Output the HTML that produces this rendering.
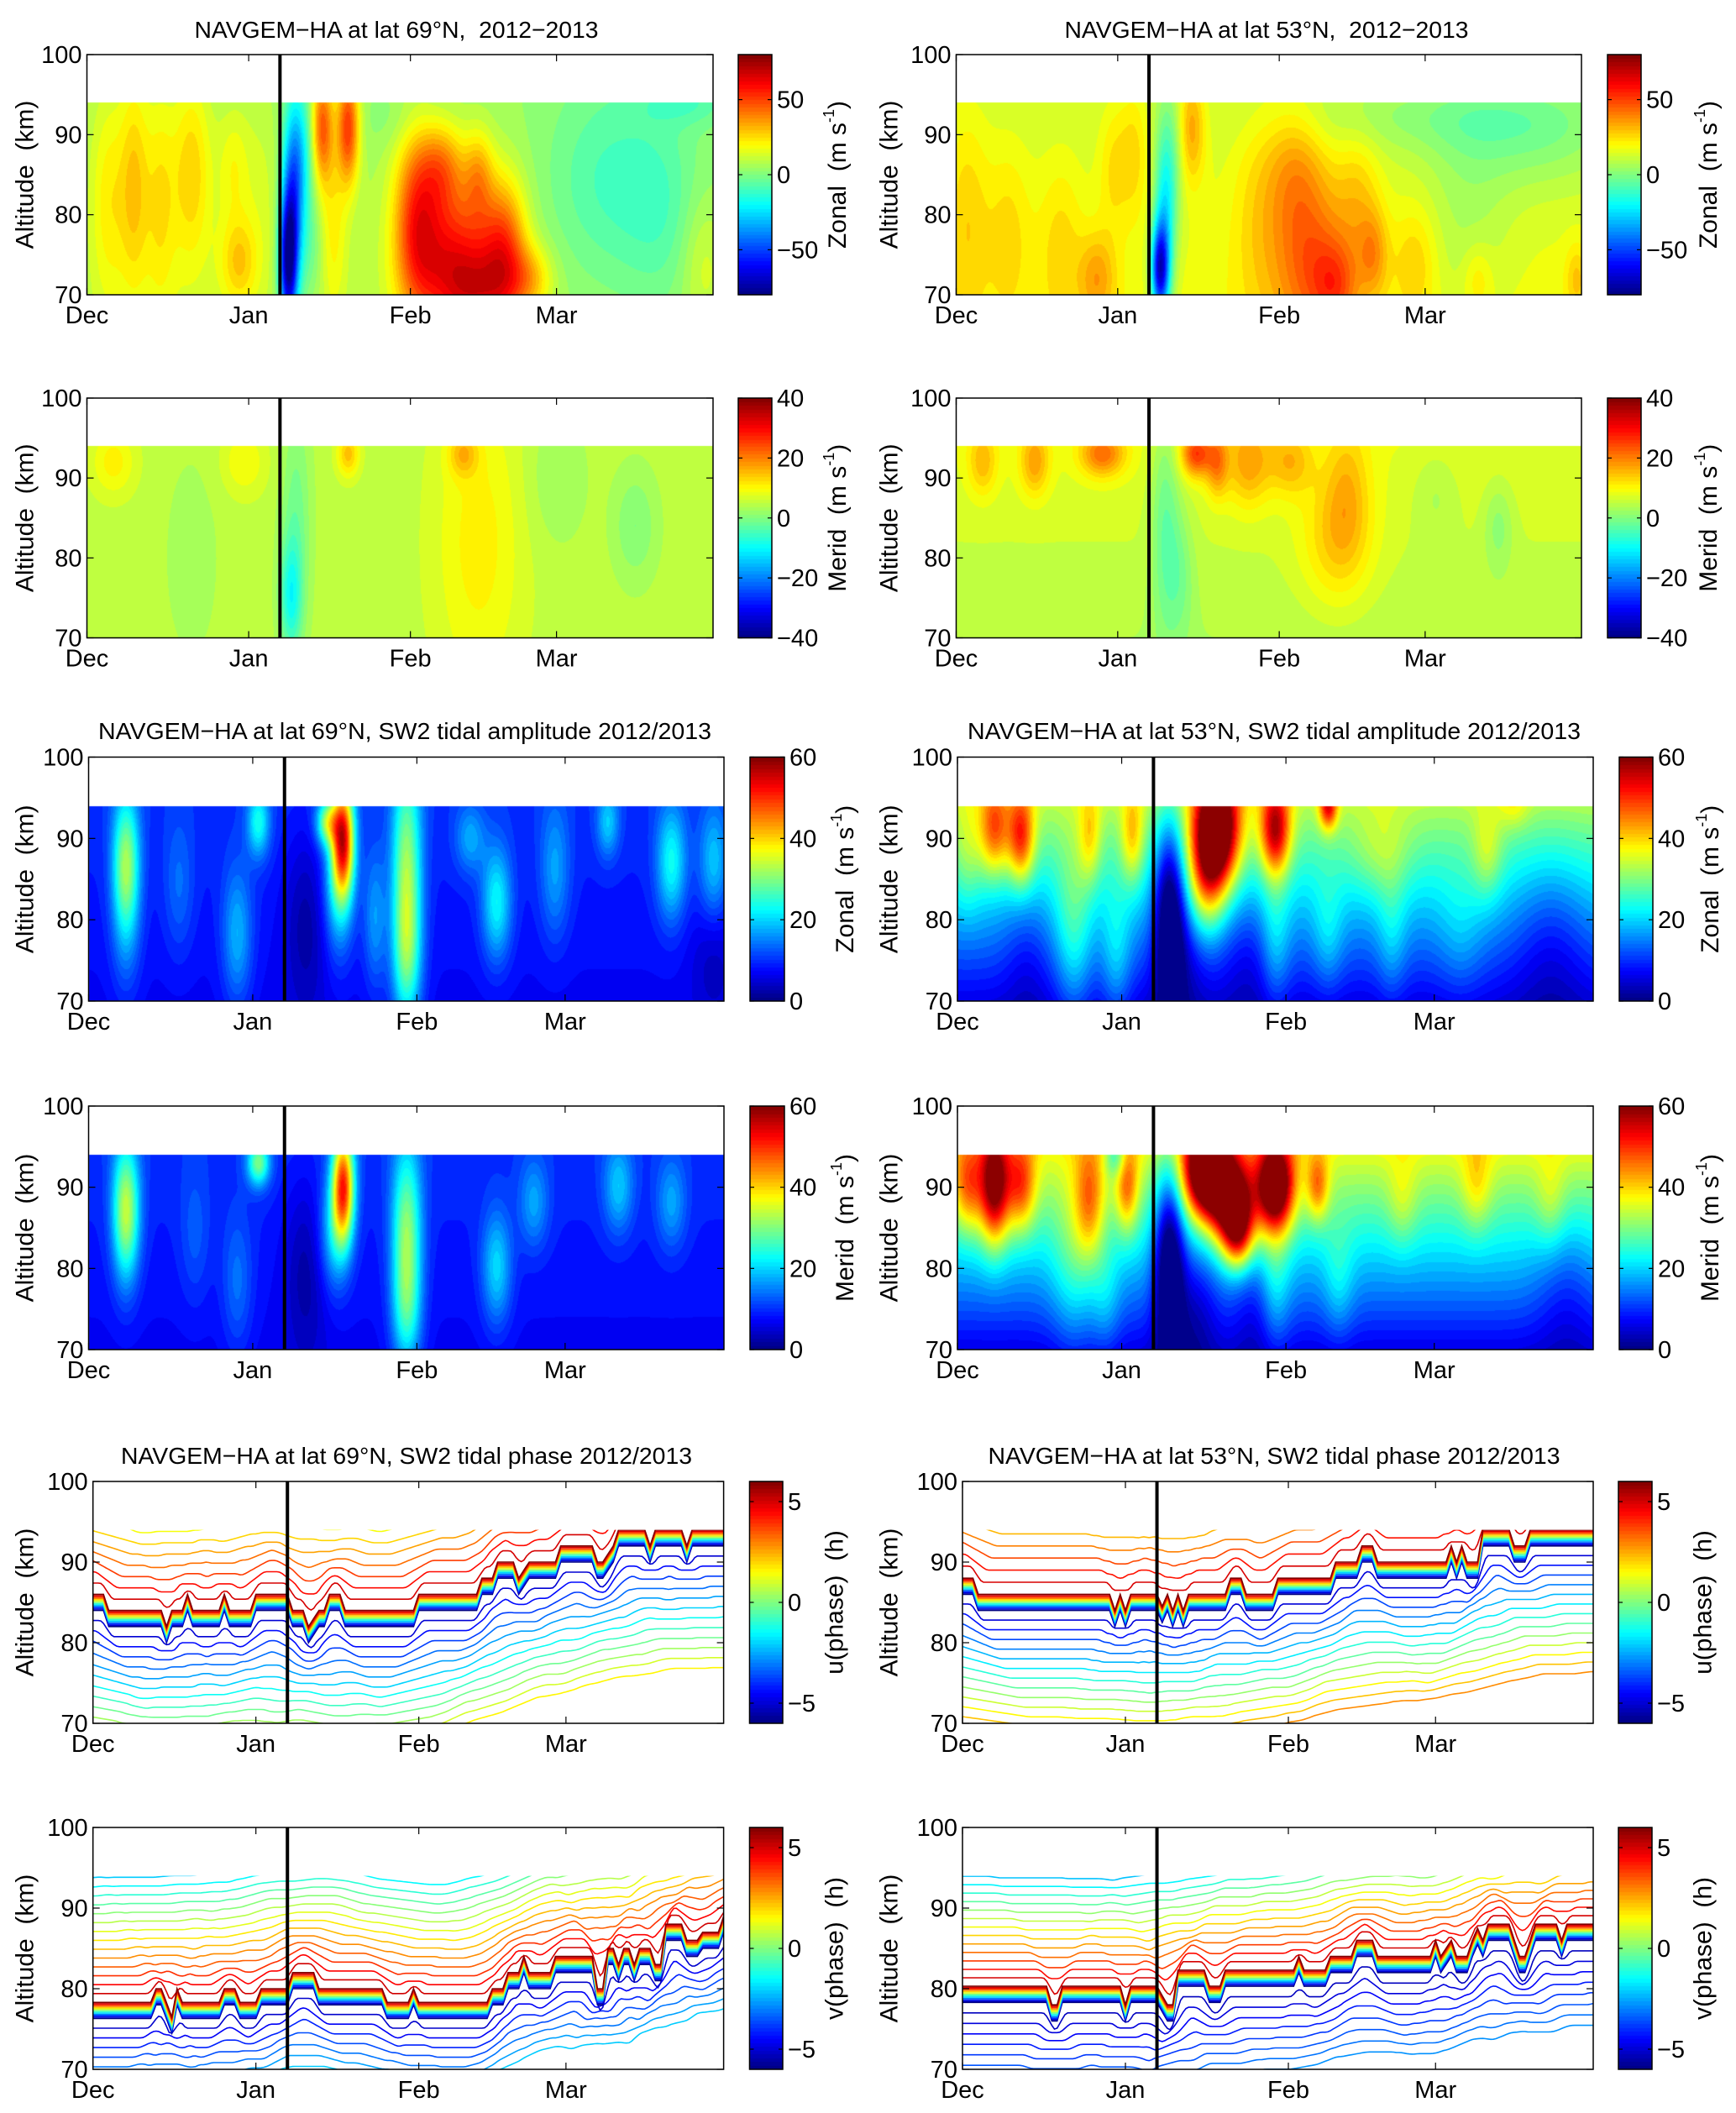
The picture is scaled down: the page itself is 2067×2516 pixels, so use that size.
<!DOCTYPE html>
<html><head><meta charset="utf-8">
<style>
body{margin:0;background:#fff;width:2067px;height:2516px;overflow:hidden;position:relative}
#cv,#ov{position:absolute;left:0;top:0}
text{font-family:"Liberation Sans",Arial,sans-serif;fill:#000;white-space:pre}
</style></head>
<body>
<canvas id="cv" width="2067" height="2516"></canvas>
<svg id="ov" width="2067" height="2516" xmlns="http://www.w3.org/2000/svg"></svg>
<script>
// ---------- shared axis data ----------
const DAYS = 120;
const monthTicks = [0, 31, 62, 90];
const monthLabels = ['Dec', 'Jan', 'Feb', 'Mar'];
const altTicks = [70, 80, 90, 100];
const eventDay = 37;
const dataTop = 94;

// ---------- filled field data: blobs [day, alt, sdDay, sdAlt, amplitude]; base [at 70km, at 94km] ----------
const zonal69Base = [8, 6];
const zonal69Blobs = [[4,82,2.5,10,14],[9,84,2,10,18],[14,82,2,10,12],[20,86,2.5,8,16],[17,78,8,14,6],[29,74,2.5,4,18],[28,86,2,5,10],[33,82,3,10,6],
 [38.5,74,1.2,6,-75],[39.5,82,1.5,8,-40],[41,88,2,6,-20],[45,91,1.5,5,40],[50,91,1.5,5,45],[47,78,2,8,15],[43,76,2,5,-10],
 [70,74,6,7,50],[76,70,5,4,25],[63,80,3,8,35],[68,86,3,4,25],[75,85,2,4,20],[80,76,3,6,35],[85,72,3,3,20],
 [100,84,8,8,-10],[110,80,5,8,-7],[105,82,15,20,-6],[118,74,3,6,10],[60,92,6,3,-5],[115,94,6,2,-10]];
const zonal53Base = [18, 12];
const zonal53Blobs = [[2,80,3,10,12],[10,78,3,8,10],[20,76,3,8,10],[27,72,2.5,4,18],[30,86,2,6,10],[34,88,2,6,12],
 [39,73,1.2,4,-70],[40,80,1.5,8,-35],[42,88,1.5,6,-10],[45,91,2,5,22],
 [68,74,5,8,28],[73,71,3,4,20],[80,75,2,4,18],[65,86,4,6,15],[77,82,3,6,12],[88,74,3,5,12],[58,80,4,10,10],
 [98,78,6,10,-8],[100,72,2,3,10],[119,72,1.5,3,12],[110,90,12,5,-12],[90,92,20,3,-8]];
const merid69Base = [5, 5];
const merid69Blobs = [[39,75,1.5,5,-12],[40,85,2,10,-6],[75,82,6,14,6],[72,93,2,2,8],[50,93,1.5,2,10],[5,92,3,3,6],[90,90,4,6,-3],[105,84,3,5,-5],[20,80,4,10,-2],[30,92,3,3,5]];
const merid53Base = [4, 8];
const merid53Blobs = [[5,92,2,3,8],[15,92,2,3,10],[28,93,3,2,14],[46,93,2,2,18],[50,92,1.5,3,12],[56,92,3,4,10],[64,92,3,3,8],[73,82,5,6,8],[75,89,3,6,6],[40,85,2,10,-8],[43,78,2,6,-5],[104,84,2,4,-5],[92,88,3,4,-3]];
const ampZ69Base = [7, 10];
const ampZ69Blobs = [[7,87,1.8,6,22],[7,78,2,6,5],[28,78,2,6,10],[32,92,1.5,3,14],[17,84,2,6,5],
 [45,92,1.5,2,20],[48,90,1.5,5,40],[47,84,2,6,12],[41,80,3,8,-6],
 [60,86,2,10,22],[60,75,2,6,12],[54,80,1.5,6,8],[77,82,2,5,14],[72,90,2,3,8],[88,86,2,6,8],[98,92,1.5,3,10],[110,87,2,5,14],[118,87,2,5,10],[118,75,3,5,-4]];
const ampM69Base = [7, 10];
const ampM69Blobs = [[7,87,1.8,6,25],[32,93,1.5,2,20],[48,90,1.5,5,40],[46,84,2,5,10],[60,84,2,8,22],[60,74,2,5,10],[77,80,2,5,12],[84,88,2,4,8],[100,90,2,4,10],[110,88,2,4,8],[41,80,3,8,-6],[20,84,2,6,4],[28,78,2,6,6]];
const ampZ53Base = [6, 33];
const ampZ53Blobs = [[7,91,2,4,18],[12,90,1.8,4,22],[25,90,1.5,4,10],[33,90,1.5,4,12],[2,88,2,5,6],
 [22,78,2.5,8,10],[30,75,2,6,8],[13,76,3,6,-4],
 [49,91,3,5,42],[47,85,2.5,5,18],[60,91,2,4,28],[70,94,1.2,2,22],
 [40,82,2,8,-22],[43,76,3,6,-6],[55,76,4,6,-5],[60,77,2,6,8],[70,78,2,5,6],[82,78,2,6,6],
 [100,88,2,4,8],[112,78,5,8,-6],[95,78,3,6,4],[80,88,4,4,6],[105,94,2,2,5]];
const ampM53Base = [6, 36];
const ampM53Blobs = [[2,90,2,4,16],[7,90,2,5,32],[12,90,2,4,18],[25,88,2,5,15],[32,90,1.5,4,16],[22,80,3,8,8],[28,76,2,5,6],
 [47,92,3,4,45],[52,88,3,4,35],[53,84,2,3,20],[60,90,2.5,4,40],[68,90,1.5,3,15],
 [40,82,2,8,-25],[45,76,3,6,-8],[56,76,3,6,-5],[60,78,2,6,8],[72,78,2,5,6],
 [84,88,2,4,6],[98,90,2,4,8],[112,88,2,4,6],[115,78,4,7,-5],[30,94,1.5,2,-12]];

// ---------- phase wrap band centre altitude [day, km] ----------
const uPhase69Band = [[0,85],[2,85],[3,83],[13,83],[14,81],[15,83],[17,83],[18,85],[19,83],[24,83],[25,85],[26,83],[30,83],[31,85],[37,85],[38,83],[40,83],[41,81],[43,83],[44,83],[45,85],[47,85],[48,83],[49,83],[61,83],[62,85],[73,85],[74,87],[76,87],[77,89],[80,89],[81,87],[83,89],[88,89],[89,91],[95,91],[96,89],[97,89],[99,91],[100,93],[105,93],[106,91],[107,93],[112,93],[113,91],[114,93],[120,93]];
const vPhase69Band = [[0,77.3],[11,77.3],[12,79],[13,79],[15,75.5],[16,79],[17,77.3],[24,77.3],[25,79],[27,79],[28,77.3],[31,77.3],[32,79],[37,79],[38,81],[42,81],[43,79],[55,79],[56,77.3],[60,77.3],[61,79],[62,77.3],[75,77.3],[76,79],[78,79],[79,81],[81,81],[82,83],[83,81],[87,81],[88,83],[95,83],[96,79],[97,79],[98,84],[99,84],[100,82],[101,84],[102,84],[103,82],[104,84],[106,84],[107,82],[108,82],[109,87],[112,87],[113,85],[115,85],[116,86],[119,86],[120,88]];
const uPhase53Band = [[0,87],[2,87],[3,85],[28,85],[29,83],[30,85],[31,83],[32,85],[37,85],[38,83.5],[39,85],[40,83],[41,85],[42,83],[43,85],[50,85],[51,87],[53,87],[54,85],[59,85],[60,87],[70,87],[71,89],[75,89],[76,91],[78,91],[79,89],[92,89],[93,91],[94,89],[95,91],[96,89],[98,89],[99,93],[104,93],[105,91],[107,91],[108,93],[120,93]];
const vPhase53Band = [[0,79.3],[16,79.3],[17,77],[18,77],[19,79.3],[30,79.3],[31,77],[32,79.3],[37,79.3],[39,77],[40,77],[41,81.3],[46,81.3],[47,79.3],[49,79.3],[50,81.3],[63,81.3],[64,83],[65,81.3],[69,81.3],[70,83],[74,83],[75,85],[78,85],[79,83],[89,83],[90,85],[91,83],[93,85],[94,83],[96,83],[97,85],[98,86.5],[99,85],[100,87],[104,87],[106,83],[107,83],[109,87],[113,87],[114,85],[115,87],[120,87]];

// ---------- layout (not data) ----------
const panels = [
 {key:'zonal-69n',x0:103.5,x1:849,y0:65,y1:351,cb:[879,919],kind:'fill',base:zonal69Base,blobs:zonal69Blobs,cmin:-80,cmax:80,cticks:[-50,0,50],clab:'Zonal',ylx:30,clx:997,title:'NAVGEM\u2212HA at lat 69\u00B0N,  2012\u22122013',tx:472,ty:45,tl:481},
 {key:'merid-69n',x0:103.5,x1:849,y0:474,y1:759.5,cb:[879,919],kind:'fill',base:merid69Base,blobs:merid69Blobs,cmin:-40,cmax:40,cticks:[-40,-20,0,20,40],clab:'Merid',ylx:30,clx:997},
 {key:'zonal-53n',x0:1138.5,x1:1883,y0:65,y1:351,cb:[1914,1954],kind:'fill',base:zonal53Base,blobs:zonal53Blobs,cmin:-80,cmax:80,cticks:[-50,0,50],clab:'Zonal',ylx:1059,clx:2034,title:'NAVGEM\u2212HA at lat 53\u00B0N,  2012\u22122013',tx:1508,ty:45,tl:481},
 {key:'merid-53n',x0:1138.5,x1:1883,y0:474,y1:759.5,cb:[1914,1954],kind:'fill',base:merid53Base,blobs:merid53Blobs,cmin:-40,cmax:40,cticks:[-40,-20,0,20,40],clab:'Merid',ylx:1059,clx:2034},
 {key:'amp-zonal-69n',x0:105.5,x1:862,y0:901.5,y1:1192,cb:[893,934],kind:'fill',base:ampZ69Base,blobs:ampZ69Blobs,cmin:0,cmax:60,cticks:[0,20,40,60],clab:'Zonal',ylx:30,clx:1006,title:'NAVGEM\u2212HA at lat 69\u00B0N, SW2 tidal amplitude 2012/2013',tx:482,ty:880,tl:730},
 {key:'amp-merid-69n',x0:105.5,x1:862,y0:1317,y1:1607,cb:[893,934],kind:'fill',base:ampM69Base,blobs:ampM69Blobs,cmin:0,cmax:60,cticks:[0,20,40,60],clab:'Merid',ylx:30,clx:1006},
 {key:'amp-zonal-53n',x0:1140,x1:1897,y0:901.5,y1:1192,cb:[1928,1968],kind:'fill',base:ampZ53Base,blobs:ampZ53Blobs,cmin:0,cmax:60,cticks:[0,20,40,60],clab:'Zonal',ylx:1059,clx:2036,title:'NAVGEM\u2212HA at lat 53\u00B0N, SW2 tidal amplitude 2012/2013',tx:1517,ty:880,tl:730},
 {key:'amp-merid-53n',x0:1140,x1:1897,y0:1317,y1:1607,cb:[1928,1968],kind:'fill',base:ampM53Base,blobs:ampM53Blobs,cmin:0,cmax:60,cticks:[0,20,40,60],clab:'Merid',ylx:1059,clx:2036},
 {key:'u-phase-69n',x0:110.7,x1:861.6,y0:1764,y1:2052,cb:[892.5,932],kind:'phase',band:uPhase69Band,spA:1.4,stA:0.6,nA:9,spB:1.25,stB:0.6,nB:12,cmin:-6,cmax:6,cticks:[-5,0,5],clab:'u(phase)  (h)',ylx:30,clx:994,title:'NAVGEM\u2212HA at lat 69\u00B0N, SW2 tidal phase 2012/2013',tx:484,ty:1743,tl:680},
 {key:'v-phase-69n',x0:110.7,x1:861.6,y0:2176,y1:2464,cb:[892.5,932],kind:'phase',band:vPhase69Band,spA:1.1,stA:0.55,nA:16,spB:1.2,stB:0.5,nB:7,cmin:-6,cmax:6,cticks:[-5,0,5],clab:'v(phase)  (h)',ylx:30,clx:994},
 {key:'u-phase-53n',x0:1146,x1:1897,y0:1764,y1:2052,cb:[1927,1967],kind:'phase',band:uPhase53Band,spA:1.5,stA:0.65,nA:7,spB:1.2,stB:0.65,nB:13,cmin:-6,cmax:6,cticks:[-5,0,5],clab:'u(phase)  (h)',ylx:1059,clx:2028,title:'NAVGEM\u2212HA at lat 53\u00B0N, SW2 tidal phase 2012/2013',tx:1517,ty:1743,tl:681},
 {key:'v-phase-53n',x0:1146,x1:1897,y0:2176,y1:2464,cb:[1927,1967],kind:'phase',band:vPhase53Band,spA:1.05,stA:0.6,nA:15,spB:1.3,stB:0.35,nB:8,cmin:-6,cmax:6,cticks:[-5,0,5],clab:'v(phase)  (h)',ylx:1059,clx:2028}
];

const NS = 'http://www.w3.org/2000/svg';
const svg = document.getElementById('ov');
const ctx = document.getElementById('cv').getContext('2d');
function el(tag, parent){ const e = document.createElementNS(NS, tag); parent.appendChild(e); return e; }
function clamp(v){ return v < 0 ? 0 : v > 1 ? 1 : v; }
function jet(t){
  const r = clamp(1.5 - Math.abs(4*t - 3)), g = clamp(1.5 - Math.abs(4*t - 2)), b = clamp(1.5 - Math.abs(4*t - 1));
  return [Math.round(r*255), Math.round(g*255), Math.round(b*255)];
}
function jetCss(t){ const c = jet(t); return 'rgb(' + c[0] + ',' + c[1] + ',' + c[2] + ')'; }
function bandAt(pairs, d){
  if (d <= pairs[0][0]) return pairs[0][1];
  for (let i = 1; i < pairs.length; i++){
    if (d <= pairs[i][0]){ const a = pairs[i-1], b = pairs[i]; return a[1] + (b[1]-a[1])*(d-a[0])/(b[0]-a[0]); }
  }
  return pairs[pairs.length-1][1];
}
function smoothBand(pairs, d, w){
  if (w <= 0) return bandAt(pairs, d);
  let s = 0, n = 0;
  for (let t = d - w; t <= d + w + 1e-9; t += 0.5){ s += bandAt(pairs, Math.max(0, Math.min(DAYS, t))); n++; }
  return s / n;
}

panels.forEach((p, pi) => {
  const xS = d => p.x0 + d / DAYS * (p.x1 - p.x0);
  const yS = a => p.y0 + (100 - a) / 30 * (p.y1 - p.y0);
  const g = el('g', svg);
  
  

  const yTop = yS(dataTop), yBot = p.y1;
  if (p.kind === 'fill'){
    const X0 = Math.round(p.x0), X1 = Math.round(p.x1), Y0 = Math.round(yTop), Y1 = Math.round(yBot);
    const W = X1 - X0, H = Y1 - Y0;
    const img = ctx.createImageData(W, H);
    const gx = p.blobs.map(b => { const a = new Float32Array(W); for (let i = 0; i < W; i++){ const d = (i + 0.5) / (p.x1 - p.x0) * DAYS; a[i] = Math.exp(-0.5*((d-b[0])/b[2])**2); } return a; });
    const gy = p.blobs.map(b => { const a = new Float32Array(H); for (let j = 0; j < H; j++){ const al = dataTop - (j + 0.5) / (yBot - yTop) * (dataTop - 70); a[j] = Math.exp(-0.5*((al-b[1])/b[3])**2); } return a; });
    const nLev = 40;
    for (let j = 0; j < H; j++){
      const al = dataTop - (j + 0.5) / (yBot - yTop) * (dataTop - 70);
      const base = p.base[0] + (p.base[1] - p.base[0]) * (al - 70) / 24;
      for (let i = 0; i < W; i++){
        let v = base;
        for (let k = 0; k < p.blobs.length; k++) v += p.blobs[k][4] * gx[k][i] * gy[k][j];
        let t = clamp((v - p.cmin) / (p.cmax - p.cmin));
        t = (Math.min(nLev - 1, Math.floor(t * nLev)) + 0.5) / nLev;
        const c = jet(t), o = (j * W + i) * 4;
        img.data[o] = c[0]; img.data[o+1] = c[1]; img.data[o+2] = c[2]; img.data[o+3] = 255;
      }
    }
    ctx.putImageData(img, X0, Y0);
  } else {
    const cp = el('clipPath', g);
    cp.setAttribute('id', 'clip' + pi);
    const cr = el('rect', cp);
    cr.setAttribute('x', p.x0); cr.setAttribute('y', yTop); cr.setAttribute('width', p.x1 - p.x0); cr.setAttribute('height', yBot - yTop);
    const lg = el('g', g);
    lg.setAttribute('clip-path', 'url(#clip' + pi + ')');
    
    
    const addLine = (fn, phase, name) => {
      let pts = [];
      for (let d = 0; d <= DAYS; d += 0.5) pts.push(xS(d).toFixed(1) + ',' + yS(fn(d)).toFixed(1));
      const pl = el('polyline', lg);
      pl.setAttribute('points', pts.join(' '));
      pl.setAttribute('fill', 'none');
      pl.setAttribute('stroke', jetCss(clamp((phase - p.cmin) / (p.cmax - p.cmin))));
      pl.setAttribute('stroke-width', '1.6');
      
      
    };
    for (let k = p.nB; k >= 1; k--) addLine(d => smoothBand(p.band, d, k*0.9) - 1 - k*p.spB, -5.6 + k*p.stB, 'contour-below-' + k);
    for (let k = p.nA; k >= 1; k--) addLine(d => smoothBand(p.band, d, k*0.9) + 1 + k*p.spA, 5.6 - k*p.stA, 'contour-above-' + k);
    const nb = 13;
    for (let i = 0; i < nb; i++){
      const off = -1 + 2*i/(nb-1);
      addLine(d => bandAt(p.band, d) + off, -6 + 12*i/(nb-1), 'phase-wrap-line-' + i);
    }
  }

  const box = el('rect', g);
  box.setAttribute('x', p.x0); box.setAttribute('y', p.y0); box.setAttribute('width', p.x1 - p.x0); box.setAttribute('height', p.y1 - p.y0);
  box.setAttribute('fill', 'none'); box.setAttribute('stroke', '#000'); box.setAttribute('stroke-width', '1.5');
  
  

  monthTicks.forEach((d, i) => {
    const x = xS(d);
    [[p.y1, p.y1 - 8], [p.y0, p.y0 + 8]].forEach(yy => {
      const t = el('line', g);
      t.setAttribute('x1', x); t.setAttribute('x2', x); t.setAttribute('y1', yy[0]); t.setAttribute('y2', yy[1]);
      t.setAttribute('stroke', '#000'); t.setAttribute('stroke-width', '1.2');
      
      
    });
    const tx = el('text', g);
    tx.setAttribute('x', x); tx.setAttribute('y', p.y1 + 34); tx.setAttribute('text-anchor', 'middle'); tx.setAttribute('font-size', '29');
    tx.textContent = monthLabels[i];
    
    
  });
  altTicks.forEach(a => {
    const y = yS(a);
    [[p.x0, p.x0 + 8], [p.x1, p.x1 - 8]].forEach(xx => {
      const t = el('line', g);
      t.setAttribute('x1', xx[0]); t.setAttribute('x2', xx[1]); t.setAttribute('y1', y); t.setAttribute('y2', y);
      t.setAttribute('stroke', '#000'); t.setAttribute('stroke-width', '1.2');
      
      
    });
    const tx = el('text', g);
    tx.setAttribute('x', p.x0 - 6); tx.setAttribute('y', y + 10); tx.setAttribute('text-anchor', 'end'); tx.setAttribute('font-size', '29');
    tx.textContent = a;
    
    
  });

  const vl = el('line', g);
  vl.setAttribute('x1', xS(eventDay)); vl.setAttribute('x2', xS(eventDay)); vl.setAttribute('y1', p.y0); vl.setAttribute('y2', p.y1);
  vl.setAttribute('stroke', '#000'); vl.setAttribute('stroke-width', '4');
  
  

  const yl = el('text', g);
  yl.setAttribute('transform', 'translate(' + p.ylx + ',' + ((p.y0 + p.y1)/2) + ') rotate(-90)');
  yl.setAttribute('text-anchor', 'middle'); yl.setAttribute('dominant-baseline', 'central'); yl.setAttribute('font-size', '30');
  yl.textContent = 'Altitude  (km)';
  
  

  const cx0 = p.cb[0], cx1 = p.cb[1], nC = 64;
  for (let i = 0; i < nC; i++){
    ctx.fillStyle = jetCss((i + 0.5) / nC);
    const ya = p.y1 - (i + 1) / nC * (p.y1 - p.y0), yb = p.y1 - i / nC * (p.y1 - p.y0);
    ctx.fillRect(cx0, Math.floor(ya), cx1 - cx0, Math.ceil(yb) - Math.floor(ya));
  }
  const cbb = el('rect', g);
  cbb.setAttribute('x', cx0); cbb.setAttribute('y', p.y0); cbb.setAttribute('width', cx1 - cx0); cbb.setAttribute('height', p.y1 - p.y0);
  cbb.setAttribute('fill', 'none'); cbb.setAttribute('stroke', '#000'); cbb.setAttribute('stroke-width', '1.5');
  
  
  p.cticks.forEach(v => {
    const y = p.y1 - (v - p.cmin) / (p.cmax - p.cmin) * (p.y1 - p.y0);
    [[cx0, cx0 + 5], [cx1, cx1 - 5]].forEach(xx => {
      const t = el('line', g);
      t.setAttribute('x1', xx[0]); t.setAttribute('x2', xx[1]); t.setAttribute('y1', y); t.setAttribute('y2', y);
      t.setAttribute('stroke', '#000'); t.setAttribute('stroke-width', '1.2');
      
      
    });
    const tx = el('text', g);
    tx.setAttribute('x', cx1 + 6); tx.setAttribute('y', y + 10); tx.setAttribute('font-size', '29');
    tx.textContent = v < 0 ? '\u2212' + (-v) : String(v);
    
    
  });
  const cl = el('text', g);
  cl.setAttribute('transform', 'translate(' + p.clx + ',' + ((p.y0 + p.y1)/2) + ') rotate(-90)');
  cl.setAttribute('text-anchor', 'middle'); cl.setAttribute('dominant-baseline', 'central'); cl.setAttribute('font-size', '30');
  if (p.kind === 'fill'){
    const t1 = el('tspan', cl); t1.textContent = p.clab + '  (m s';
    const t2 = el('tspan', cl); t2.textContent = '-1'; t2.setAttribute('dy', '-10'); t2.setAttribute('font-size', '18');
    const t3 = el('tspan', cl); t3.textContent = ')'; t3.setAttribute('dy', '10');
  } else {
    cl.textContent = p.clab;
  }
  
  

  if (p.title){
    const tt = el('text', g);
    tt.setAttribute('x', p.tx); tt.setAttribute('y', p.ty); tt.setAttribute('text-anchor', 'middle'); tt.setAttribute('font-size', '28');
    tt.setAttribute('textLength', p.tl); tt.setAttribute('lengthAdjust', 'spacingAndGlyphs');
    tt.textContent = p.title;
    
    
  }
});
</script>
</body></html>
